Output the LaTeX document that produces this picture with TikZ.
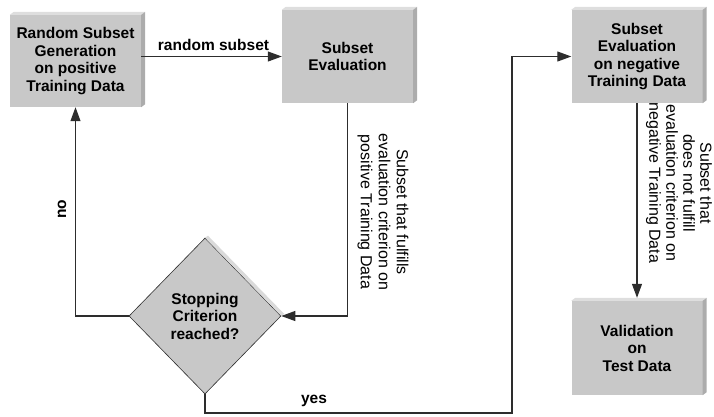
\documentclass[tikz,border=0pt]{standalone}
\usepackage{fontspec}
\setmainfont{Liberation Sans}
\usetikzlibrary{shapes.geometric,arrows.meta,calc}
\definecolor{face}{RGB}{200,200,200}
\definecolor{bevtop}{RGB}{222,222,222}
\definecolor{bevside}{RGB}{172,172,172}
\definecolor{shad}{RGB}{218,218,218}
\definecolor{linec}{RGB}{45,45,45}
\newcommand\bevelbox[1]{%
  \fill[bevtop] (#1.north west) -- ++(4pt,3pt) -- ($(#1.north east)+(4pt,3pt)$) -- (#1.north east) -- cycle;
  \fill[bevside] (#1.north east) -- ++(4pt,3pt) -- ($(#1.south east)+(4pt,3pt)$) -- (#1.south east) -- cycle;}
\begin{document}
\begin{tikzpicture}[x=1pt,y=-1pt,
  box/.style={fill=face, minimum width=131pt, minimum height=93pt, inner sep=0pt, align=center,
    font=\fontsize{15.5}{17.5}\selectfont\bfseries},
  dec/.style={diamond, fill=face, draw=linec, line width=0.6pt, minimum width=152pt, minimum height=156pt,
    inner sep=0pt, align=center, font=\fontsize{15.5}{17.5}\selectfont\bfseries},
  conn/.style={draw=linec, line width=1.1pt, -{Triangle[length=14pt,width=10pt]}},
  blab/.style={inner sep=0pt, font=\fontsize{15.5}{17.5}\selectfont\bfseries},
  rlab/.style={inner sep=0pt, align=center, rotate=-90, font=\fontsize{16}{18}\selectfont}]
\useasboundingbox (0,0) rectangle (714,416);
\clip (0,0) rectangle (714,416);
% boxes
\node[box, minimum height=92pt] (gen) at (75.5,61) {Random Subset\\Generation\\on positive\\Training Data};
\bevelbox{gen}
\node[box] (eval) at (347.5,56.5) {Subset\\Evaluation};
\bevelbox{eval}
\node[box] (neg) at (637,56.5) {Subset\\Evaluation\\on negative\\Training Data};
\bevelbox{neg}
\node[box, minimum height=94pt] (val) at (637,348) {Validation\\on\\Test Data};
\bevelbox{val}
% decision
\node[dec] (stop) at (205,316) {Stopping\\Criterion\\reached?};
\fill[shad] (stop.north) -- ($(stop.north)+(3pt,2pt)$) -- ($(stop.east)+(3pt,2pt)$) -- (stop.east) -- cycle;
% connectors
\coordinate (c1) at (512,413);
\draw[conn] (gen.east |- eval.west) -- (eval.west);
\draw[conn] (eval.south) |- (stop.east);
\draw[conn] (stop.west) -| (gen.south);
\draw[conn] (stop.south) |- (c1) -- (c1 |- neg.west) -- (neg.west);
\draw[conn] (neg.south) -- ([yshift=3pt]val.north);
% labels
\node[blab] (rs) at (213.5,45) {random subset};
\node[blab, rotate=90] (no) at (62,209) {no};
\node[blab] (yes) at (314,401) {yes};
\node[rlab] (pos) at (383,212) {Subset that fulfills\\evaluation criterion on\\positive Training Data};
\node[rlab, font=\fontsize{16}{17}\selectfont] (negl) at (679,183) {Subset that\\does not fulfill\\evaluation criterion on\\negative Training Data};
\end{tikzpicture}
\end{document}
